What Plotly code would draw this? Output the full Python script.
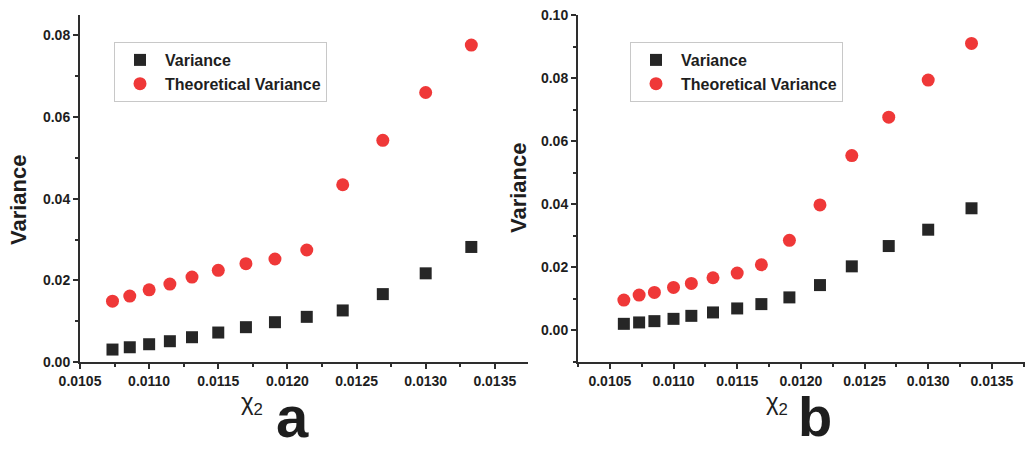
import plotly.graph_objects as go

# ---------------- data ----------------
x_a = [0.010735, 0.01086, 0.0110, 0.01115, 0.01131, 0.0115, 0.0117, 0.01191, 0.01214,
       0.0124, 0.01269, 0.0130, 0.01333]
var_a = [0.00305, 0.00361, 0.00435, 0.00509, 0.00607, 0.00722, 0.00853, 0.00975, 0.01106,
         0.01263, 0.01663, 0.02172, 0.02818]
theo_a = [0.01491, 0.01614, 0.01769, 0.01909, 0.02081, 0.02246, 0.02408, 0.02523, 0.02744,
          0.04342, 0.0543, 0.06602, 0.07764]

x_b = [0.01061, 0.01073, 0.01085, 0.0110, 0.01114, 0.01131, 0.0115, 0.01169, 0.01191,
       0.01215, 0.0124, 0.01269, 0.0130, 0.01334]
var_b = [0.0021, 0.00254, 0.00295, 0.00368, 0.00463, 0.00571, 0.00698, 0.00835, 0.01048,
         0.01438, 0.02032, 0.02676, 0.03194, 0.03873]
theo_b = [0.00962, 0.01121, 0.01206, 0.01365, 0.01492, 0.0167, 0.01819, 0.02083, 0.02857,
          0.03978, 0.05543, 0.06762, 0.07937, 0.09098]

series_names = ["Variance", "Theoretical Variance"]
panel_labels = ["a", "b"]
x_title = "χ<sub>2</sub>"
y_title = "Variance"

# ---------------- styles ----------------
SQ = "#262626"
RED = "#ef3838"
AX = "#2e2e2e"
FONT = "Liberation Sans, Arial, sans-serif"

fig = go.Figure()

fig.add_trace(go.Scatter(x=x_a, y=var_a, mode="markers", name=series_names[0],
                         marker=dict(symbol="square", size=12, color=SQ),
                         xaxis="x", yaxis="y", legend="legend"))
fig.add_trace(go.Scatter(x=x_a, y=theo_a, mode="markers", name=series_names[1],
                         marker=dict(symbol="circle", size=13, color=RED),
                         xaxis="x", yaxis="y", legend="legend"))
fig.add_trace(go.Scatter(x=x_b, y=var_b, mode="markers", name=series_names[0],
                         marker=dict(symbol="square", size=12, color=SQ),
                         xaxis="x2", yaxis="y2", legend="legend2"))
fig.add_trace(go.Scatter(x=x_b, y=theo_b, mode="markers", name=series_names[1],
                         marker=dict(symbol="circle", size=13, color=RED),
                         xaxis="x2", yaxis="y2", legend="legend2"))

W, H = 1027, 449
L, R, T, B = 0, 0, 15, 87
pw = W - L - R
ph = H - T - B


def px_x(p):
    return (p - L) / pw


def px_y(p):
    return (H - B - p) / ph


tickfont = dict(family=FONT, size=14, color="#1e1e1e", weight="bold")
common_axis = dict(showline=True, linecolor=AX, linewidth=2, showgrid=False, zeroline=False,
                   ticks="outside", ticklen=5, tickwidth=2, tickcolor=AX, tickfont=tickfont,
                   mirror=False, automargin=False)

legend_font = dict(family=FONT, size=16, weight="bold", color="#1e1e1e")

fig.update_layout(
    template="none",
    width=W, height=H,
    margin=dict(l=L, r=R, t=T, b=B, autoexpand=False),
    paper_bgcolor="white", plot_bgcolor="white",
    font=dict(family=FONT, color="#1e1e1e"),
    xaxis=dict(domain=[px_x(80), px_x(528)], range=[0.0105, 0.01374], dtick=0.0005,
               tick0=0.0105, tickformat=".4f", anchor="y",
               minor=dict(ticks="outside", ticklen=3, tickwidth=2, tickcolor=AX, dtick=0.00025,
                          tick0=0.0105),
               **common_axis),
    yaxis=dict(domain=[0, 1], range=[0, 0.085], dtick=0.02, tick0=0, tickformat=".2f",
               anchor="x",
               minor=dict(ticks="outside", ticklen=3, tickwidth=2, tickcolor=AX, dtick=0.01, tick0=0),
               **common_axis),
    xaxis2=dict(domain=[px_x(578), px_x(1025)], range=[0.01025, 0.01376], dtick=0.0005,
                tick0=0.0105, tickformat=".4f", anchor="y2",
                minor=dict(ticks="outside", ticklen=3, tickwidth=2, tickcolor=AX, dtick=0.00025,
                           tick0=0.0105),
                **common_axis),
    yaxis2=dict(domain=[0, 1], range=[-0.01, 0.10], dtick=0.02, tick0=0, tickformat=".2f",
                anchor="x2",
                minor=dict(ticks="outside", ticklen=3, tickwidth=2, tickcolor=AX, dtick=0.01, tick0=0),
                **common_axis),
    legend=dict(x=px_x(114), y=px_y(42), xanchor="left", yanchor="top",
                bgcolor="white", bordercolor="#c8c8c8", borderwidth=1,
                font=legend_font, itemwidth=40, tracegroupgap=0),
    legend2=dict(x=px_x(630), y=px_y(42), xanchor="left", yanchor="top",
                 bgcolor="white", bordercolor="#c8c8c8", borderwidth=1,
                 font=legend_font, itemwidth=40, tracegroupgap=0),
    showlegend=True,
)

ann = []
# y-axis titles
ann.append(dict(text=y_title, x=px_x(18), y=px_y(200), xref="paper", yref="paper",
                textangle=-90, showarrow=False, xanchor="center", yanchor="middle",
                font=dict(family=FONT, size=22, weight="bold", color="#1e1e1e")))
ann.append(dict(text=y_title, x=px_x(518), y=px_y(188), xref="paper", yref="paper",
                textangle=-90, showarrow=False, xanchor="center", yanchor="middle",
                font=dict(family=FONT, size=22, weight="bold", color="#1e1e1e")))
# x-axis titles
ann.append(dict(text=x_title, x=px_x(252), y=px_y(404), xref="paper", yref="paper",
                showarrow=False, xanchor="center", yanchor="middle",
                font=dict(family=FONT, size=24, color="#1e1e1e")))
ann.append(dict(text=x_title, x=px_x(777), y=px_y(404), xref="paper", yref="paper",
                showarrow=False, xanchor="center", yanchor="middle",
                font=dict(family=FONT, size=24, color="#1e1e1e")))
# panel labels
ann.append(dict(text=panel_labels[0], x=px_x(292), y=px_y(416), xref="paper", yref="paper",
                showarrow=False, xanchor="center", yanchor="middle",
                font=dict(family=FONT, size=58, weight="bold", color="#1e1e1e")))
ann.append(dict(text=panel_labels[1], x=px_x(815), y=px_y(417), xref="paper", yref="paper",
                showarrow=False, xanchor="center", yanchor="middle",
                font=dict(family=FONT, size=56, weight="bold", color="#1e1e1e")))
fig.update_layout(annotations=ann)

fig.write_html("out.html", config={"displayModeBar": False},
               post_script="document.body.style.margin='0px';")
